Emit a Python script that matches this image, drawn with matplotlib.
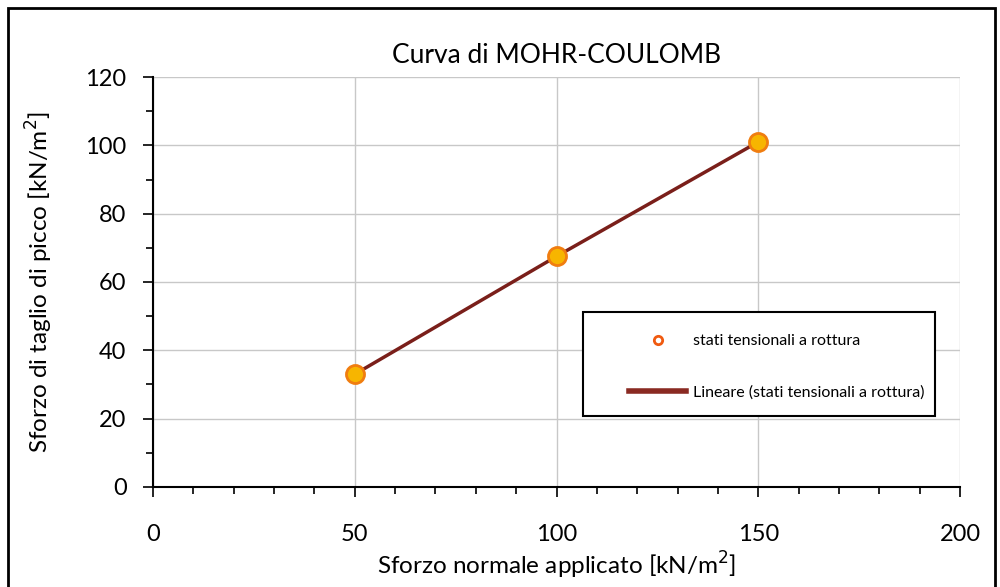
import matplotlib
matplotlib.use("Agg")
import matplotlib.pyplot as plt
from matplotlib.patches import Rectangle
from matplotlib.ticker import MultipleLocator

plt.rcParams['font.family'] = ['Lato', 'DejaVu Sans']

# normal stress vs peak shear stress at failure
sigma = [50, 100, 150]
tau = [33, 67.5, 101]

fig = plt.figure(figsize=(10, 5.87), dpi=100)
ax = fig.add_axes([0.153, 0.1704, 0.807, 0.6984])

# outer frame of the chart area
fig.patches.append(Rectangle((0.008, -0.01), 0.987, 0.997, transform=fig.transFigure,
                             fill=False, edgecolor='black', linewidth=2.0))

ax.plot(sigma, tau, color='#7a1f1a', linewidth=2.5, zorder=3,
        label='Lineare (stati tensionali a rottura)')
ax.plot(sigma, tau, linestyle='none', marker='o', markersize=13,
        markerfacecolor='#f7b500', markeredgecolor='#f07d10', markeredgewidth=2,
        zorder=4, label='stati tensionali a rottura')

ax.set_xlim(0, 200)
ax.set_ylim(0, 120)
ax.xaxis.set_major_locator(MultipleLocator(50))
ax.xaxis.set_minor_locator(MultipleLocator(10))
ax.yaxis.set_major_locator(MultipleLocator(20))
ax.yaxis.set_minor_locator(MultipleLocator(10))
ax.grid(True, which='major', color='#c8c8c8', linewidth=1.0)
ax.set_axisbelow(True)
for s in ['top', 'right']:
    ax.spines[s].set_visible(False)
for s in ['left', 'bottom']:
    ax.spines[s].set_linewidth(1.5)
ax.tick_params(which='both', direction='out', width=1.2, labelsize=17)
ax.tick_params(which='major', length=7)
ax.tick_params(which='minor', length=5)
ax.tick_params(axis='x', pad=20)
ax.tick_params(axis='y', pad=12)

ax.set_title('Curva di MOHR-COULOMB', fontsize=19, pad=10)
ax.set_xlabel('Sforzo normale applicato [kN/m$^2$]', fontsize=17.5, labelpad=3)
ax.set_ylabel('Sforzo di taglio di picco [kN/m$^2$]', fontsize=17.5, labelpad=22)

# legend box drawn separately so the entries can sit inside it freely
fig.patches.append(Rectangle((0.583, 1 - 416 / 587), 0.352, 104 / 587,
                             transform=fig.transFigure, fill=True, facecolor='white',
                             edgecolor='black', linewidth=1.5, zorder=5))
h, l = ax.get_legend_handles_labels()
leg_marker = plt.Line2D([], [], linestyle='none', marker='o', markersize=6,
                        markerfacecolor='white', markeredgecolor='#f05a10', markeredgewidth=2)
leg_line = plt.Line2D([], [], color='#8a2a22', linewidth=4)
leg = fig.legend([leg_marker, leg_line], [l[1], l[0]], loc='upper left',
                 bbox_to_anchor=(0.613, 1 - 318 / 587), fontsize=11.5, frameon=False,
                 handlelength=3.6, labelspacing=2.3, borderpad=0.5, handletextpad=0.4)
leg.set_zorder(6)

fig.savefig('out.png', dpi=100)
